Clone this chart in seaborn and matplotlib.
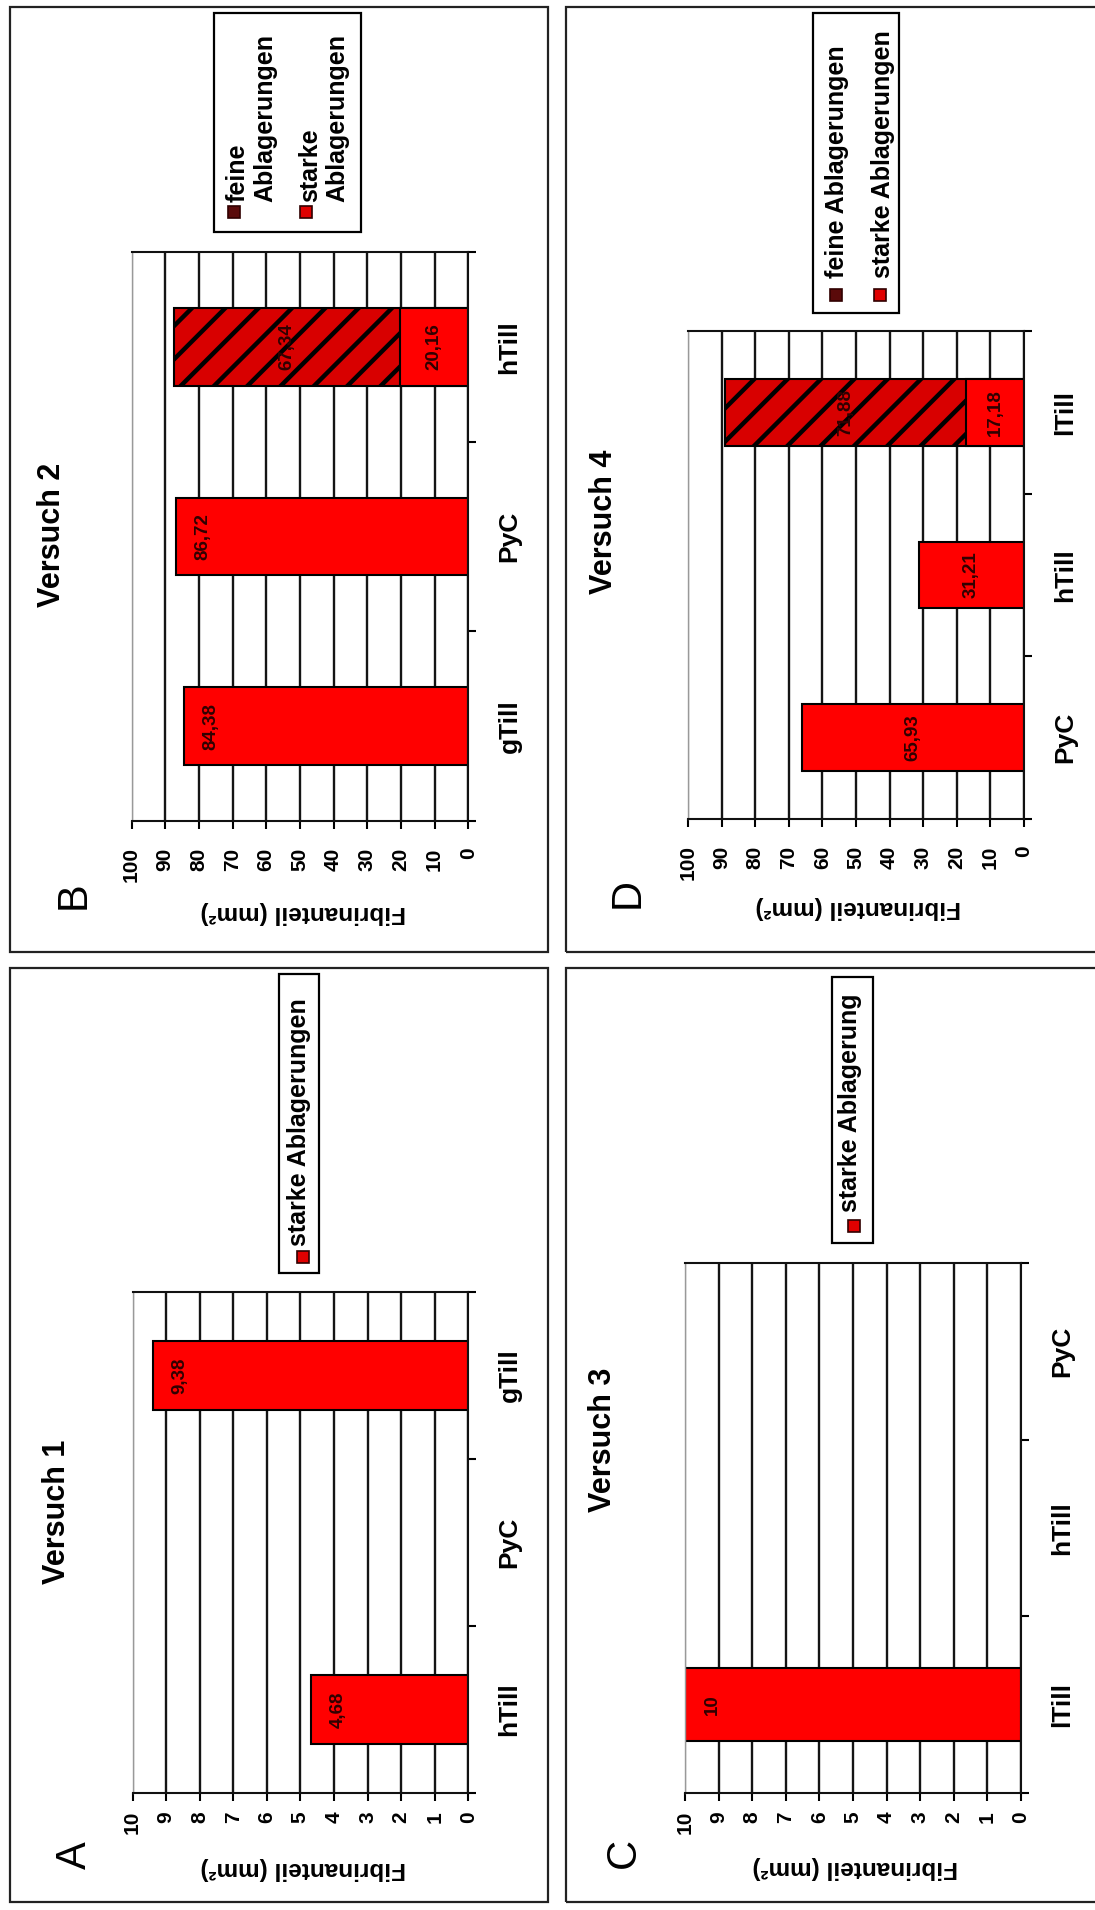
import numpy as np
import pandas as pd
import matplotlib
matplotlib.use("Agg")
import matplotlib.pyplot as plt
from matplotlib.patches import Rectangle
import seaborn as sns

# ---- data (categories listed in original left-to-right order) ----
cats_v1 = ["hTill", "PyC", "gTill"]
starke_v1 = [4.68, np.nan, 9.38]

cats_v2 = ["gTill", "PyC", "hTill"]
starke_v2 = [84.38, 86.72, 20.16]
feine_v2 = [np.nan, np.nan, 67.34]

cats_v3 = ["lTill", "hTill", "PyC"]
starke_v3 = [10, np.nan, np.nan]

cats_v4 = ["PyC", "hTill", "lTill"]
starke_v4 = [65.93, 31.21, 17.18]
feine_v4 = [np.nan, np.nan, 71.88]

ticks_small = list(range(0, 11))
ticks_large = list(range(0, 101, 10))

plt.rcParams["font.family"] = ["Liberation Sans", "DejaVu Sans"]
plt.rcParams["font.weight"] = "bold"
plt.rcParams["hatch.linewidth"] = 3.2

W, H = 1095, 1910
fig = plt.figure(figsize=(W / 100, H / 100), dpi=100)
fig.patch.set_facecolor("white")

RED = "#ff0000"
HATCH_RED = "#d80000"
LABEL_COL = "#300000"


def fxy(x, y):
    # pixel position (from top-left) -> figure fraction
    return x / W, 1 - y / H


def add_axes_px(x0, x1, y0, y1):
    return fig.add_axes([x0 / W, 1 - y1 / H, (x1 - x0) / W, (y1 - y0) / H])


def fmt(v):
    return ("%g" % v).replace(".", ",")


def panel_box(x0, y0, x1, y1):
    fig.add_artist(Rectangle(fxy(x0, y1), (x1 - x0) / W, (y1 - y0) / H,
                             transform=fig.transFigure, fill=False,
                             edgecolor="#222222", linewidth=1.6))


def legend_px(box, items):
    # box = (x0, y0, x1, y1); items = (text, color, square centre, text anchor, ha)
    x0, y0, x1, y1 = box
    fig.add_artist(Rectangle(fxy(x0, y1), (x1 - x0) / W, (y1 - y0) / H,
                             transform=fig.transFigure, facecolor="white",
                             edgecolor="black", linewidth=1.6))
    for text, color, (sx, sy), (tx, ty), ha in items:
        s = 12
        fig.add_artist(Rectangle(fxy(sx - s / 2, sy + s / 2), s / W, s / H,
                                 transform=fig.transFigure, facecolor=color,
                                 edgecolor="#300000", linewidth=1.2))
        fig.text(*fxy(tx, ty), text, rotation=90, ha=ha, va="bottom",
                 fontsize=18, color="black")


def draw_panel(rect, cats, starke, feine, ticks, tick_pad, label_mode,
               xlabel_px, title, title_px, letter, letter_px):
    x0, x1, y0, y1 = rect
    ax = add_axes_px(x0, x1, y0, y1)
    order = cats[::-1]

    if feine is not None:
        df_tot = pd.DataFrame({"cat": cats,
                               "val": [s + f for s, f in zip(starke, feine)]}).dropna()
        sns.barplot(data=df_tot, x="val", y="cat", order=order, orient="h",
                    color=HATCH_RED, saturation=1, edgecolor="black", linewidth=1.5,
                    hatch="/", width=0.41, errorbar=None, ax=ax)
    df = pd.DataFrame({"cat": cats, "val": starke}).dropna()
    sns.barplot(data=df, x="val", y="cat", order=order, orient="h",
                color=RED, saturation=1, edgecolor="black", linewidth=1.5,
                width=0.41, errorbar=None, ax=ax)

    vmax = ticks[-1]
    ax.set_xlim(vmax, 0)
    ax.set_ylim(2.5, -0.5)
    ax.set_xticks(ticks)
    ax.set_xticklabels([str(t) for t in ticks], fontweight="bold")
    ax.tick_params(axis="x", direction="out", length=6, width=1.5, pad=tick_pad,
                   labelrotation=90, labelsize=15)

    ax.yaxis.tick_right()
    ax.set_yticks([-0.5, 0.5, 1.5, 2.5], minor=True)
    ax.tick_params(axis="y", which="major", length=0, pad=21, labelrotation=90,
                   labelsize=19)
    ax.tick_params(axis="y", which="minor", direction="out", length=6, width=1.5)
    for lbl in ax.get_yticklabels():
        lbl.set_va("center")
        lbl.set_ha("left")
        lbl.set_fontweight("bold")

    ax.set_axisbelow(True)
    ax.grid(axis="x", color="#141414", linewidth=1.7)
    ax.grid(axis="y", visible=False)
    ax.get_xgridlines()[-1].set_color("0.6")
    for side in ["top", "bottom", "right"]:
        ax.spines[side].set_color("#111111")
        ax.spines[side].set_linewidth(1.5)
    ax.spines["left"].set_color("0.6")
    ax.spines["left"].set_linewidth(1.0)

    # value labels
    lab = dict(rotation=90, ha="center", va="center", fontsize=13.5,
               fontweight="bold", color=LABEL_COL)
    for i, cat in enumerate(cats):
        pos = order.index(cat)
        s = starke[i]
        f = feine[i] if feine is not None else np.nan
        if not np.isnan(f):
            ax.annotate(fmt(f), xy=(s + f / 2, pos), **lab)
            ax.annotate(fmt(s), xy=(s / 2, pos), **lab)
        elif not np.isnan(s):
            if label_mode == "center":
                ax.annotate(fmt(s), xy=(s / 2, pos), **lab)
            else:
                ax.annotate(fmt(s), xy=(s, pos), xytext=(27, 0),
                            textcoords="offset pixels", **lab)

    ax.set_ylabel("")
    ax.set_xlabel("Fibrinanteil (mm²)", fontsize=17.5, rotation=180,
                  fontweight="bold")
    lx, ly = xlabel_px
    ax.xaxis.set_label_coords((lx - x0) / (x1 - x0), (y1 - ly) / (y1 - y0))
    ax.xaxis.label.set_va("center")

    fig.text(*fxy(*title_px), title, rotation=90, ha="center", va="center",
             fontsize=22, fontweight="bold")
    fig.text(*fxy(*letter_px), letter, rotation=90, ha="center", va="center",
             fontsize=30, fontweight="normal")
    return ax


# panel frames
panel_box(10, 7, 548, 952)
panel_box(10, 968, 548, 1902)
panel_box(566, 7, 1110, 952)
panel_box(566, 968, 1110, 1902)

# A - Versuch 1
draw_panel((132.5, 468.3, 1292, 1793), cats_v1, starke_v1, None, ticks_small, 7,
           "end", (303, 1868), "Versuch 1", (57, 1512), "A", (75, 1855))
# B - Versuch 2
draw_panel((131.5, 468.3, 252, 821), cats_v2, starke_v2, feine_v2, ticks_large, 13,
           "end", (303, 912), "Versuch 2", (52, 535), "B", (74, 895))
# C - Versuch 3
draw_panel((685, 1021, 1263, 1793), cats_v3, starke_v3, None, ticks_small, 7,
           "end", (855, 1867), "Versuch 3", (603, 1440), "C", (624, 1853))
# D - Versuch 4
draw_panel((688, 1024, 331, 819), cats_v4, starke_v4, feine_v4, ticks_large, 13,
           "center", (858, 908), "Versuch 4", (604, 522), "D", (628, 893))

# legends
legend_px((279, 974, 319, 1273),
          [("starke Ablagerungen", "#e00000", (303, 1257), (299, 1246), "center")])
legend_px((214, 13, 361, 232),
          [("feine\nAblagerungen", "#5a0a0a", (234, 212), (226, 202), "left"),
           ("starke\nAblagerungen", "#e00000", (306, 212), (298, 202), "left")])
legend_px((832, 977, 873, 1243),
          [("starke Ablagerung", "#e00000", (854, 1226), (850, 1212), "center")])
legend_px((813, 13, 899, 313),
          [("feine Ablagerungen", "#5a0a0a", (836, 295), (837, 278), "center"),
           ("starke Ablagerungen", "#e00000", (880, 295), (883, 278), "center")])

fig.savefig("out.png", dpi=100, facecolor="white")
